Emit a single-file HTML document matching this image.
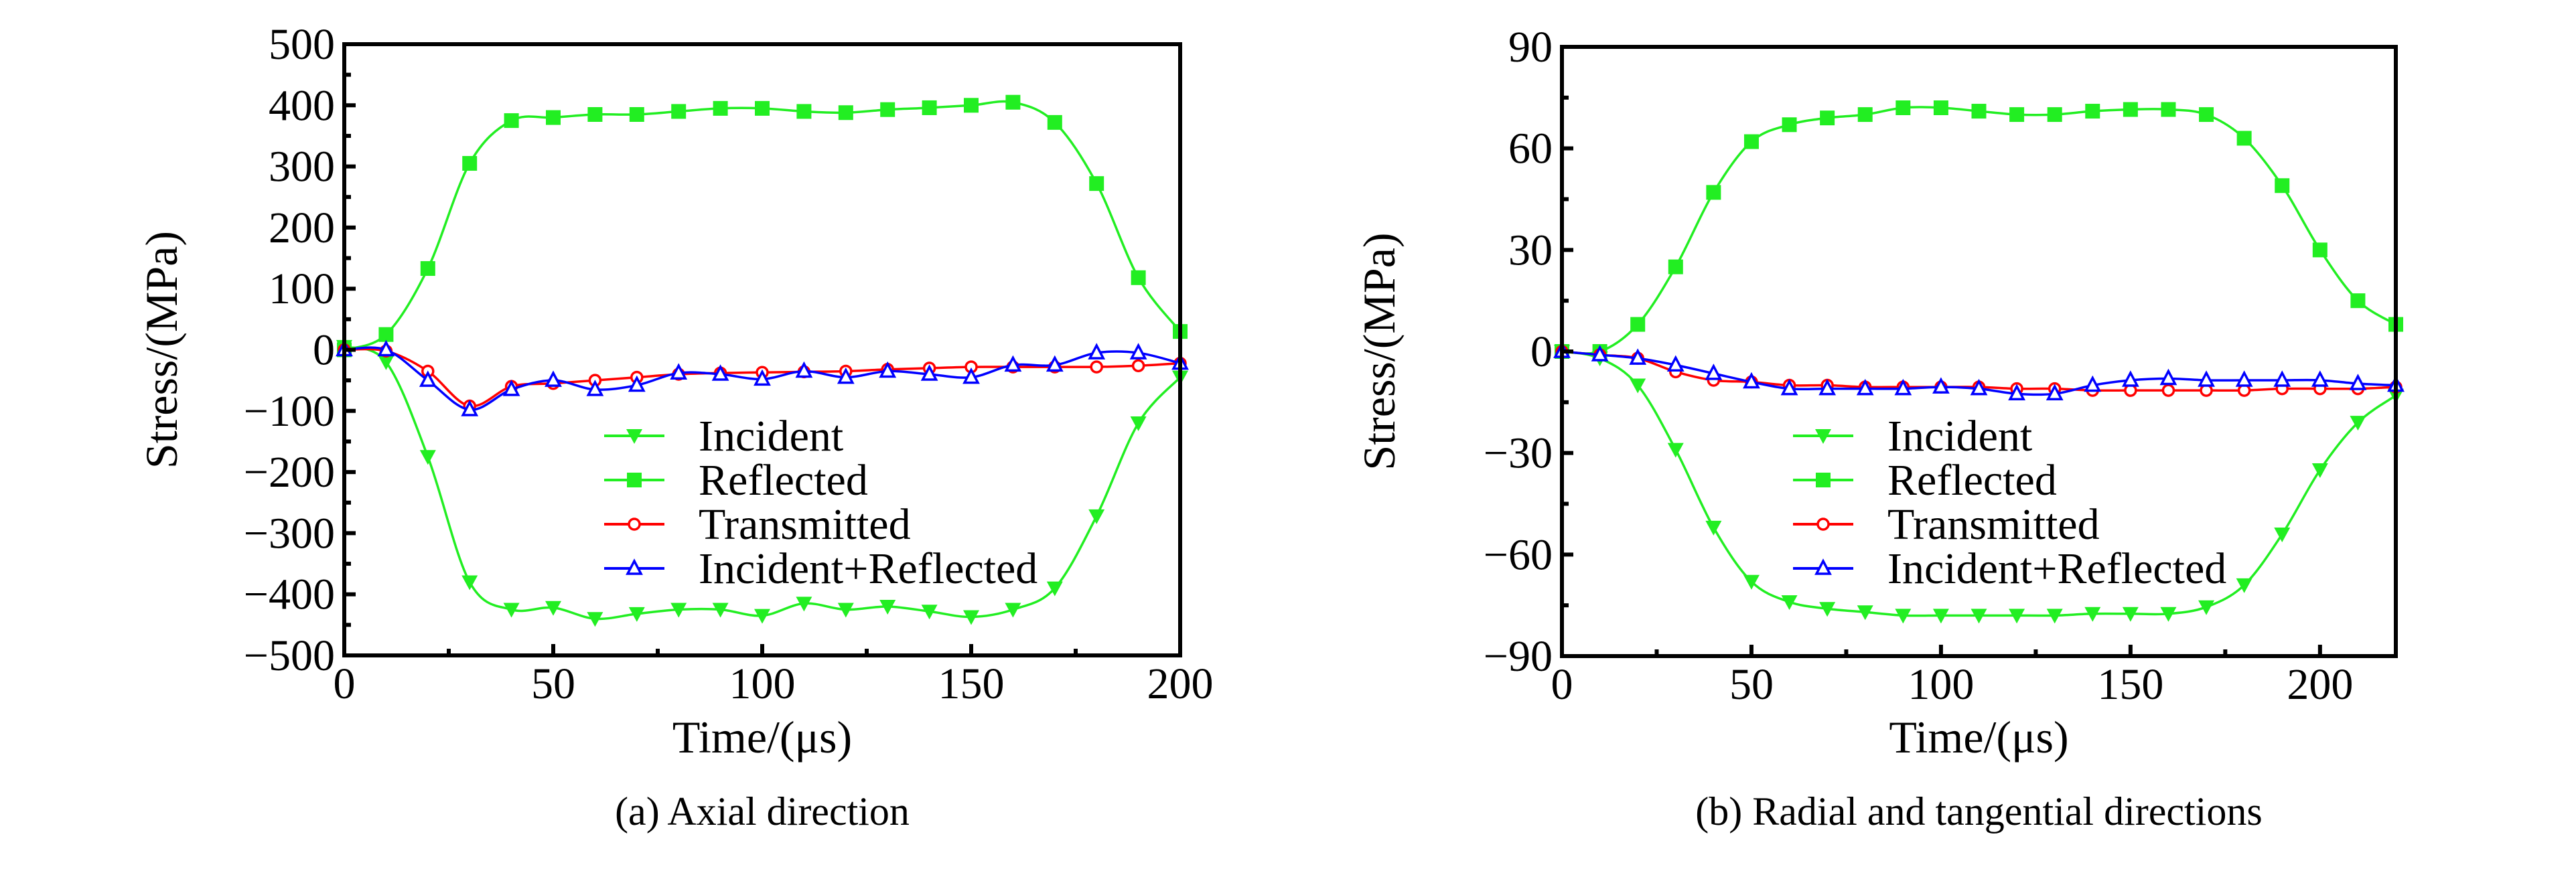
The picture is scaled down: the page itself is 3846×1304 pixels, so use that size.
<!DOCTYPE html>
<html><head><meta charset="utf-8">
<style>
html,body{margin:0;padding:0;background:#fff;}
svg, svg text{font-family:"Liberation Serif","DejaVu Serif",serif !important;fill:#000;}
</style></head>
<body>
<svg id="fig" width="3846" height="1299" viewBox="0 0 3846 1299" xmlns="http://www.w3.org/2000/svg" font-family="Liberation Serif, serif"></svg>
<script>
const timesA = [0,10,20,30,40,50,60,70,80,90,100,110,120,130,140,150,160,170,180,190,200];
const incidentA = [5,-20,-175,-380,-425,-422,-440,-432,-425,-425,-435,-415,-425,-420,-428,-437,-425,-390,-272,-120,-45];
const reflectedA = [0,25,133,305,375,380,385,385,390,395,395,390,388,393,396,400,405,372,272,118,30];
const transmittedA = [0,-2,-35,-92,-60,-55,-50,-45,-40,-38,-37,-36,-35,-32,-30,-28,-28,-28,-28,-26,-22];
const sumA = [0,0,-50,-98,-65,-50,-65,-58,-38,-40,-48,-35,-45,-35,-40,-45,-25,-25,-5,-5,-22];
const yTicksA = [-500,-400,-300,-200,-100,0,100,200,300,400,500];
const xTicksA = [0,50,100,150,200];

const timesB = [0,10,20,30,40,50,60,70,80,90,100,110,120,130,140,150,160,170,180,190,200,210,220];
const incidentB = [0,-2,-10,-29,-52,-68,-74,-76,-77,-78,-78,-78,-78,-78,-77.5,-77.5,-77.5,-75.5,-69,-54,-35,-21,-13];
const reflectedB = [0,0,8,25,47,62,67,69,70,72,72,71,70,70,71,71.5,71.5,70,63,49,30,15,8];
const transmittedB = [0,-1,-2,-6,-8.5,-9,-10,-10,-10.5,-10.5,-10.5,-10.5,-11,-11,-11.5,-11.5,-11.5,-11.5,-11.5,-11,-11,-11,-10.5];
const sumB = [0,-1,-2,-4,-6.5,-9,-11,-11,-11,-11,-10.5,-11,-12.5,-12.5,-10,-8.5,-8,-8.5,-8.5,-8.5,-8.5,-9.5,-10];
const yTicksB = [-90,-60,-30,0,30,60,90];
const xTicksB = [0,50,100,150,200];
const legendLabels = ["Incident","Reflected","Transmitted","Incident+Reflected"];

const NS="http://www.w3.org/2000/svg";
const svg=document.getElementById('fig');
const FONT='Liberation Serif, serif';
function mk(tag,attrs,parent){const e=document.createElementNS(NS,tag);for(const k in attrs)e.setAttribute(k,attrs[k]);if(tag==='text')e.setAttribute('font-family',FONT);(parent||svg).appendChild(e);return e;}
function fmt(v){return v<0?'\u2212'+(-v):String(v);}

function spline(pts){
  let d='M'+pts[0][0]+','+pts[0][1];
  for(let i=0;i<pts.length-1;i++){
    const p0=pts[Math.max(0,i-1)],p1=pts[i],p2=pts[i+1],p3=pts[Math.min(pts.length-1,i+2)];
    const c1=[p1[0]+(p2[0]-p0[0])/6,p1[1]+(p2[1]-p0[1])/6];
    const c2=[p2[0]-(p3[0]-p1[0])/6,p2[1]-(p3[1]-p1[1])/6];
    d+=' C'+c1[0]+','+c1[1]+' '+c2[0]+','+c2[1]+' '+p2[0]+','+p2[1];
  }
  return d;
}
function marker(g,type,x,y,color){
  let e;
  if(type==='down'){e=mk('polygon',{points:`${x-12},${y-10} ${x+12},${y-10} ${x},${y+12}`,fill:color},g);}
  else if(type==='square'){e=mk('rect',{x:x-11,y:y-11,width:22,height:22,fill:color},g);}
  else if(type==='circle'){e=mk('circle',{cx:x,cy:y,r:8,fill:'#fff',stroke:color,'stroke-width':3.5},g);}
  else {e=mk('polygon',{points:`${x-10},${y+8} ${x+10},${y+8} ${x},${y-11}`,fill:'#fff',stroke:color,'stroke-width':3.5},g);}
  
  
}

function panel(cfg){
  const {id,L,R,T,B,xmax,ymin,ymax,yTicks,xTicks,yMinorStep,xMinorStep,times,series,caption,legX,legTextX}=cfg;
  const g=mk('g',{});
  
  
  const X=v=>L+(v/xmax)*(R-L);
  const Y=v=>B-(v-ymin)/(ymax-ymin)*(B-T);
  series.forEach(s=>{
    const sg=mk('g',{},g);
    
    
    const pts=times.map((t,i)=>[X(t),Y(s.vals[i])]);
    const p=mk('path',{d:spline(pts),fill:'none',stroke:s.color,'stroke-width':3.5},sg);
    
    
    pts.forEach(q=>marker(sg,s.marker,q[0],q[1],s.color));
  });
  const tg=mk('g',{stroke:'#000','stroke-width':6},g);
  
  
  for(let v=ymin;v<=ymax+1e-9;v+=yMinorStep){
    const major=yTicks.includes(Math.round(v));
    mk('line',{x1:L,x2:L+(major?17:10),y1:Y(v),y2:Y(v)},tg);
  }
  for(let v=0;v<=xmax+1e-9;v+=xMinorStep){
    const major=xTicks.includes(v);
    mk('line',{x1:X(v),x2:X(v),y1:B,y2:B-(major?17:10)},tg);
  }
  const fr=mk('rect',{x:L,y:T,width:R-L,height:B-T,fill:'none',stroke:'#000','stroke-width':6},g);
  
  
  yTicks.forEach(v=>{
    const t=mk('text',{x:L-14,y:Y(v)+22,'font-size':66,'text-anchor':'end'},g);
    t.textContent=fmt(v);
    
    
  });
  xTicks.forEach(v=>{
    const t=mk('text',{x:X(v),y:B+64,'font-size':66,'text-anchor':'middle'},g);
    t.textContent=fmt(v);
    
    
  });
  const xt=mk('text',{x:(L+R)/2,y:1124,'font-size':68,'text-anchor':'middle'},g);
  xt.textContent='Time/(\u03bcs)';
  
  
  const yx=L-250, yy=(T+B)/2;
  const yt=mk('text',{x:yx,y:yy,'font-size':68,'text-anchor':'middle',transform:`rotate(-90 ${yx} ${yy})`},g);
  yt.textContent='Stress/(MPa)';
  
  
  const cp=mk('text',{x:(L+R)/2,y:1232,'font-size':60,'text-anchor':'middle'},g);
  cp.textContent=caption;
  
  
  const lg=mk('g',{},g);
  
  
  const rows=[651,717,783,849];
  series.forEach((s,i)=>{
    const eg=mk('g',{},lg);
    
    
    mk('line',{x1:legX,x2:legX+90,y1:rows[i],y2:rows[i],stroke:s.color,'stroke-width':4},eg);
    marker(eg,s.marker,legX+45,rows[i],s.color);
    const t=mk('text',{x:legTextX,y:rows[i]+22,'font-size':66},eg);
    t.textContent=legendLabels[i];
  });
}

panel({id:'panel-axial',L:514,R:1762,T:66,B:979,xmax:200,ymin:-500,ymax:500,yTicks:yTicksA,xTicks:xTicksA,yMinorStep:50,xMinorStep:25,times:timesA,
  series:[{name:'incident',vals:incidentA,color:'#22ee22',marker:'down'},{name:'reflected',vals:reflectedA,color:'#22ee22',marker:'square'},
          {name:'transmitted',vals:transmittedA,color:'#ff0000',marker:'circle'},{name:'incident-plus-reflected',vals:sumA,color:'#0000ff',marker:'up'}],
  caption:'(a) Axial direction',legX:902,legTextX:1043});
panel({id:'panel-radial',L:2332,R:3577,T:70,B:980,xmax:220,ymin:-90,ymax:90,yTicks:yTicksB,xTicks:xTicksB,yMinorStep:15,xMinorStep:25,times:timesB,
  series:[{name:'incident',vals:incidentB,color:'#22ee22',marker:'down'},{name:'reflected',vals:reflectedB,color:'#22ee22',marker:'square'},
          {name:'transmitted',vals:transmittedB,color:'#ff0000',marker:'circle'},{name:'incident-plus-reflected',vals:sumB,color:'#0000ff',marker:'up'}],
  caption:'(b) Radial and tangential directions',legX:2677,legTextX:2818});
</script>
</body></html>
